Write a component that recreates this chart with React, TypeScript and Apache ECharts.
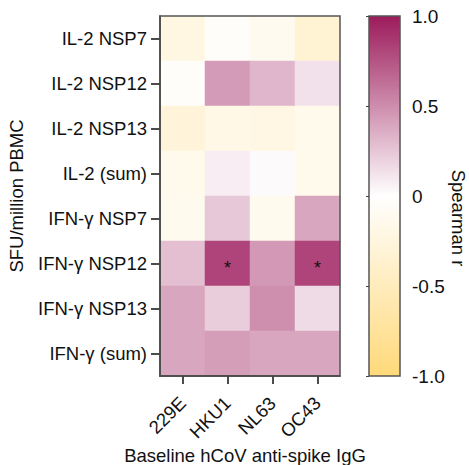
import React, { useEffect, useRef } from "react";
import * as echarts from "echarts";

const columns = ["229E", "HKU1", "NL63", "OC43"];
const rows = [
  "IL-2 NSP7",
  "IL-2 NSP12",
  "IL-2 NSP13",
  "IL-2 (sum)",
  "IFN-γ NSP7",
  "IFN-γ NSP12",
  "IFN-γ NSP13",
  "IFN-γ (sum)",
];
const il2Nsp7 = [-0.22, -0.04, -0.12, -0.32];
const il2Nsp12 = [-0.04, 0.44, 0.32, 0.13];
const il2Nsp13 = [-0.28, -0.18, -0.21, -0.14];
const il2Sum = [-0.14, 0.08, 0.02, -0.14];
const ifnNsp7 = [-0.13, 0.24, -0.13, 0.39];
const ifnNsp12 = [0.28, 0.82, 0.45, 0.82];
const ifnNsp13 = [0.39, 0.22, 0.49, 0.16];
const ifnSum = [0.39, 0.43, 0.39, 0.39];
const rowValues = [il2Nsp7, il2Nsp12, il2Nsp13, il2Sum, ifnNsp7, ifnNsp12, ifnNsp13, ifnSum];
const significant = [
  [5, 1],
  [5, 3],
];
const colorTicks = [-1, -0.5, 0, 0.5, 1];

const FONT = "Liberation Sans, Arial, Helvetica, sans-serif";
const HI = "#9c1b5b";
const LO = "#ffd97a";
const FS = 18.5;

const GRID = { left: 160, top: 16, width: 180, height: 360 };

export default function App() {
  const ref = useRef<HTMLDivElement>(null);
  useEffect(() => {
    if (!ref.current) return;
    const chart = echarts.init(ref.current, null, { renderer: "svg" });
    const data: any[] = [];
    rowValues.forEach((vals, r) => {
      vals.forEach((v, c) => {
        const sig = significant.some(([sr, sc]) => sr === r && sc === c);
        data.push({ value: [c, r, v], sig });
      });
    });
    chart.setOption({
      animation: false,
      backgroundColor: "#fff",
      grid: [
        { ...GRID, show: false, containLabel: false },
        {
          left: 369,
          top: 16,
          width: 31,
          height: 360,
          show: true,
          borderColor: "#555",
          borderWidth: 1.5,
          backgroundColor: new echarts.graphic.LinearGradient(0, 0, 0, 1, [
            { offset: 0, color: HI },
            { offset: 0.5, color: "#ffffff" },
            { offset: 1, color: LO },
          ]),
        },
      ],
      xAxis: [
        {
          type: "category",
          gridIndex: 0,
          data: columns,
          z: 7,
          axisLine: { show: true, lineStyle: { color: "#111", width: 1.5 } },
          axisTick: { show: true, alignWithLabel: true, length: 8, lineStyle: { color: "#111", width: 1.5 } },
          axisLabel: { rotate: 45, color: "#111", fontSize: FS, fontFamily: FONT, margin: 24 },
          splitLine: { show: false },
        },
        { type: "value", gridIndex: 1, show: false, min: 0, max: 1 },
      ],
      yAxis: [
        {
          type: "category",
          gridIndex: 0,
          data: rows,
          inverse: true,
          z: 7,
          name: "SFU/million PBMC",
          nameLocation: "middle",
          nameGap: 134,
          nameRotate: 90,
          nameTextStyle: { color: "#111", fontSize: FS, fontFamily: FONT },
          axisLine: { show: true, lineStyle: { color: "#111", width: 1.5 } },
          axisTick: { show: true, alignWithLabel: true, length: 9, lineStyle: { color: "#111", width: 1.5 } },
          axisLabel: { color: "#111", fontSize: FS, fontFamily: FONT, margin: 13 },
          splitLine: { show: false },
        },
        {
          type: "value",
          gridIndex: 1,
          position: "right",
          min: -1,
          max: 1,
          interval: 0.5,
          axisLine: { show: false },
          axisTick: { show: true, inside: true, length: 3, lineStyle: { color: "#444", width: 1 } },
          axisLabel: {
            color: "#111",
            fontSize: 19,
            fontFamily: FONT,
            margin: 12,
            formatter: (v: number) => (colorTicks.includes(v) ? (v === 0 ? "0" : v.toFixed(1)) : ""),
          },
          splitLine: { show: false },
        },
      ],
      visualMap: {
        show: false,
        min: -1,
        max: 1,
        dimension: 2,
        seriesIndex: 0,
        inRange: { color: [LO, "#ffffff", HI] },
      },
      series: [
        {
          type: "heatmap",
          xAxisIndex: 0,
          yAxisIndex: 0,
          data,
          z: 2,
          label: {
            show: true,
            color: "#111",
            fontSize: 18,
            fontFamily: FONT,
            formatter: (p: any) => (p.data.sig ? "*" : ""),
            offset: [0, 4],
          },
          itemStyle: { borderWidth: 0 },
          emphasis: { disabled: true },
        },
      ],
      graphic: [
        {
          type: "rect",
          z: 100,
          silent: true,
          shape: { x: GRID.left, y: GRID.top, width: GRID.width, height: GRID.height },
          style: { fill: "rgba(0,0,0,0)", stroke: "#555", lineWidth: 1.5 },
        },
        {
          type: "text",
          x: 245,
          y: 455,
          z: 100,
          style: {
            text: "Baseline hCoV anti-spike IgG",
            fill: "#111",
            fontSize: FS,
            fontFamily: FONT,
            align: "center",
            verticalAlign: "middle",
          },
        },
        {
          type: "text",
          x: 458,
          y: 218,
          z: 100,
          rotation: -Math.PI / 2,
          style: {
            text: "Spearman r",
            fill: "#111",
            fontSize: FS,
            fontFamily: FONT,
            align: "center",
            verticalAlign: "middle",
          },
        },
      ],
    });
    return () => chart.dispose();
  }, []);
  return (
    <div
      ref={ref}
      style={{ position: "absolute", left: 0, top: 0, width: 469, height: 465 }}
    />
  );
}
